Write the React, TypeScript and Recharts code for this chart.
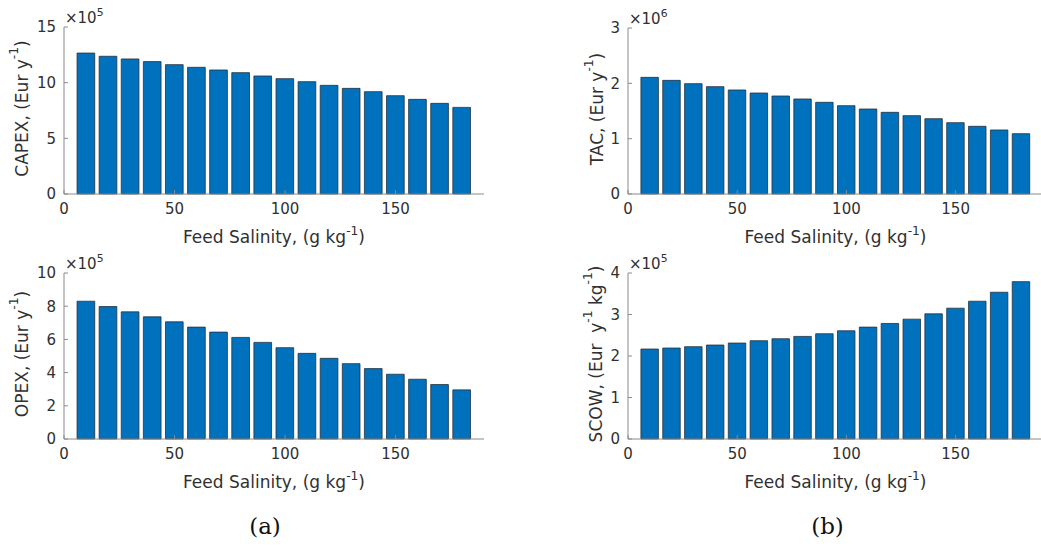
import { BarChart, Bar, XAxis, YAxis } from "recharts";

const salinity = [10, 20, 30, 40, 50, 60, 70, 80, 90, 100, 110, 120, 130, 140, 150, 160, 170, 180];
const capex = [12.66, 12.37, 12.13, 11.89, 11.62, 11.38, 11.14, 10.9, 10.6, 10.36, 10.09, 9.76, 9.49, 9.19, 8.83, 8.5, 8.14, 7.78];
const tac = [2.108, 2.054, 1.994, 1.94, 1.88, 1.825, 1.771, 1.717, 1.657, 1.596, 1.536, 1.476, 1.416, 1.361, 1.289, 1.223, 1.157, 1.09];
const opex = [8.3, 7.98, 7.66, 7.36, 7.06, 6.74, 6.44, 6.12, 5.82, 5.5, 5.16, 4.86, 4.54, 4.24, 3.9, 3.6, 3.28, 2.96];
const scow = [2.168, 2.192, 2.224, 2.264, 2.312, 2.368, 2.416, 2.472, 2.536, 2.608, 2.696, 2.784, 2.888, 3.016, 3.152, 3.32, 3.536, 3.792];
const xTicks = [0, 50, 100, 150];

const BAR = "#0072BD";
const EDGE = "#22313f";
const AXIS = "#8a8a8a";
const TXT = "#303030";
const FONT = "DejaVu Sans";
const TICK = -4;
const LABEL_FS = 17;

type Sup = { main: string; sup?: string }[];

function SupText({ parts, fs }: { parts: Sup; fs: number }) {
  const out: any[] = [];
  parts.forEach((p, i) => {
    out.push(<tspan key={"m" + i} dy={i > 0 && parts[i - 1].sup ? fs * 0.45 : 0}>{p.main}</tspan>);
    if (p.sup) out.push(<tspan key={"s" + i} fontSize={fs * 0.72} dy={-fs * 0.45}>{p.sup}</tspan>);
  });
  return <>{out}</>;
}

type PanelProps = {
  left: number;
  top: number;
  width: number;
  height: number;
  plot: { l: number; t: number; r: number; b: number };
  values: number[];
  yMax: number;
  yTicks: number[];
  yLabel: Sup;
  yLabelX: number;
  exp: string;
};

function Panel({ left, top, width, height, plot, values, yMax, yTicks, yLabel, yLabelX, exp }: PanelProps) {
  const data = salinity.map((s, i) => ({ s, v: values[i] }));
  const xAxisH = 56;
  const plotW = plot.r - plot.l;
  const barSize = (plotW * 8) / 190;
  const fs = 15;
  return (
    <div style={{ position: "absolute", left, top }}>
      <BarChart
        width={width}
        height={height}
        data={data}
        margin={{ top: plot.t, right: width - plot.r, left: 0, bottom: height - plot.b - xAxisH }}
      >
        <XAxis
          dataKey="s"
          type="number"
          domain={[0, 190]}
          ticks={xTicks}
          height={xAxisH}
          tickSize={TICK}
          tickMargin={13}
          axisLine={{ stroke: AXIS }}
          tickLine={{ stroke: AXIS }}
          tick={{ fill: TXT, fontSize: fs, fontFamily: FONT }}
          label={(p: any) => {
            const vb = p.viewBox;
            return (
              <text x={vb.x + vb.width / 2} y={vb.y + 49} textAnchor="middle" fill={TXT} fontSize={LABEL_FS} fontFamily={FONT}>
                <SupText fs={LABEL_FS} parts={[{ main: "Feed Salinity, (g kg", sup: "-1" }, { main: ")" }]} />
              </text>
            );
          }}
        />
        <XAxis
          xAxisId="top"
          dataKey="s"
          type="number"
          orientation="top"
          domain={[0, 190]}
          ticks={xTicks}
          height={0}
          tickSize={TICK}
          tick={false}
          axisLine={{ stroke: AXIS }}
          tickLine={{ stroke: AXIS }}
        />
        <YAxis
          type="number"
          domain={[0, yMax]}
          ticks={yTicks}
          width={plot.l}
          tickSize={TICK}
          tickMargin={12}
          axisLine={{ stroke: AXIS }}
          tickLine={{ stroke: AXIS }}
          tick={{ fill: TXT, fontSize: fs, fontFamily: FONT }}
          label={(p: any) => {
            const vb = p.viewBox;
            const cx = vb.x + yLabelX;
            const cy = vb.y + vb.height / 2 - 2;
            return (
              <g>
                <text
                  x={cx}
                  y={cy}
                  transform={`rotate(-90, ${cx}, ${cy})`}
                  textAnchor="middle"
                  dominantBaseline="central"
                  fill={TXT}
                  fontSize={LABEL_FS}
                  fontFamily={FONT}
                >
                  <SupText fs={LABEL_FS} parts={yLabel} />
                </text>
                <text x={vb.x + vb.width + 1} y={vb.y - 4} fill={TXT} fontSize={15} fontFamily={FONT}>
                  <SupText fs={15} parts={[{ main: "\u00d710", sup: exp }]} />
                </text>
              </g>
            );
          }}
        />
        <YAxis
          yAxisId="right"
          type="number"
          orientation="right"
          domain={[0, yMax]}
          ticks={yTicks}
          width={0}
          tickSize={TICK}
          tick={false}
          axisLine={{ stroke: AXIS }}
          tickLine={{ stroke: AXIS }}
        />
        <Bar dataKey="v" fill={BAR} stroke={EDGE} strokeWidth={0.8} barSize={barSize} isAnimationActive={false} />
      </BarChart>
    </div>
  );
}

export default function App() {
  return (
    <div
      style={{
        position: "absolute",
        left: 0,
        top: 0,
        width: 1041,
        height: 550,
        overflow: "hidden",
        background: "#fff",
      }}
    >
      <Panel
        left={0}
        top={0}
        width={500}
        height={250}
        plot={{ l: 64, t: 27, r: 484, b: 194 }}
        values={capex}
        yMax={15}
        yTicks={[0, 5, 10, 15]}
        yLabel={[{ main: "CAPEX, (Eur y", sup: "-1" }, { main: ")" }]}
        yLabelX={22}
        exp="5"
      />
      <Panel
        left={560}
        top={0}
        width={495}
        height={250}
        plot={{ l: 68, t: 28, r: 483, b: 194 }}
        values={tac}
        yMax={3}
        yTicks={[0, 1, 2, 3]}
        yLabel={[{ main: "TAC, (Eur y", sup: "-1" }, { main: ")" }]}
        yLabelX={37}
        exp="6"
      />
      <Panel
        left={0}
        top={250}
        width={500}
        height={250}
        plot={{ l: 64, t: 23, r: 484, b: 189 }}
        values={opex}
        yMax={10}
        yTicks={[0, 2, 4, 6, 8, 10]}
        yLabel={[{ main: "OPEX, (Eur y", sup: "-1" }, { main: ")" }]}
        yLabelX={22}
        exp="5"
      />
      <Panel
        left={560}
        top={250}
        width={495}
        height={250}
        plot={{ l: 68, t: 23, r: 483, b: 189 }}
        values={scow}
        yMax={4}
        yTicks={[0, 1, 2, 3, 4]}
        yLabel={[{ main: "SCOW, (Eur \u00a0y", sup: "-1" }, { main: " kg", sup: "-1" }, { main: ")" }]}
        yLabelX={36}
        exp="5"
      />
      <div style={{ position: "absolute", left: 0, top: 513, width: 530, textAlign: "center", fontFamily: "DejaVu Serif", fontSize: 23, color: "#111" }}>
        (a)
      </div>
      <div style={{ position: "absolute", left: 560, top: 513, width: 535, textAlign: "center", fontFamily: "DejaVu Serif", fontSize: 23, color: "#111" }}>
        (b)
      </div>
    </div>
  );
}
